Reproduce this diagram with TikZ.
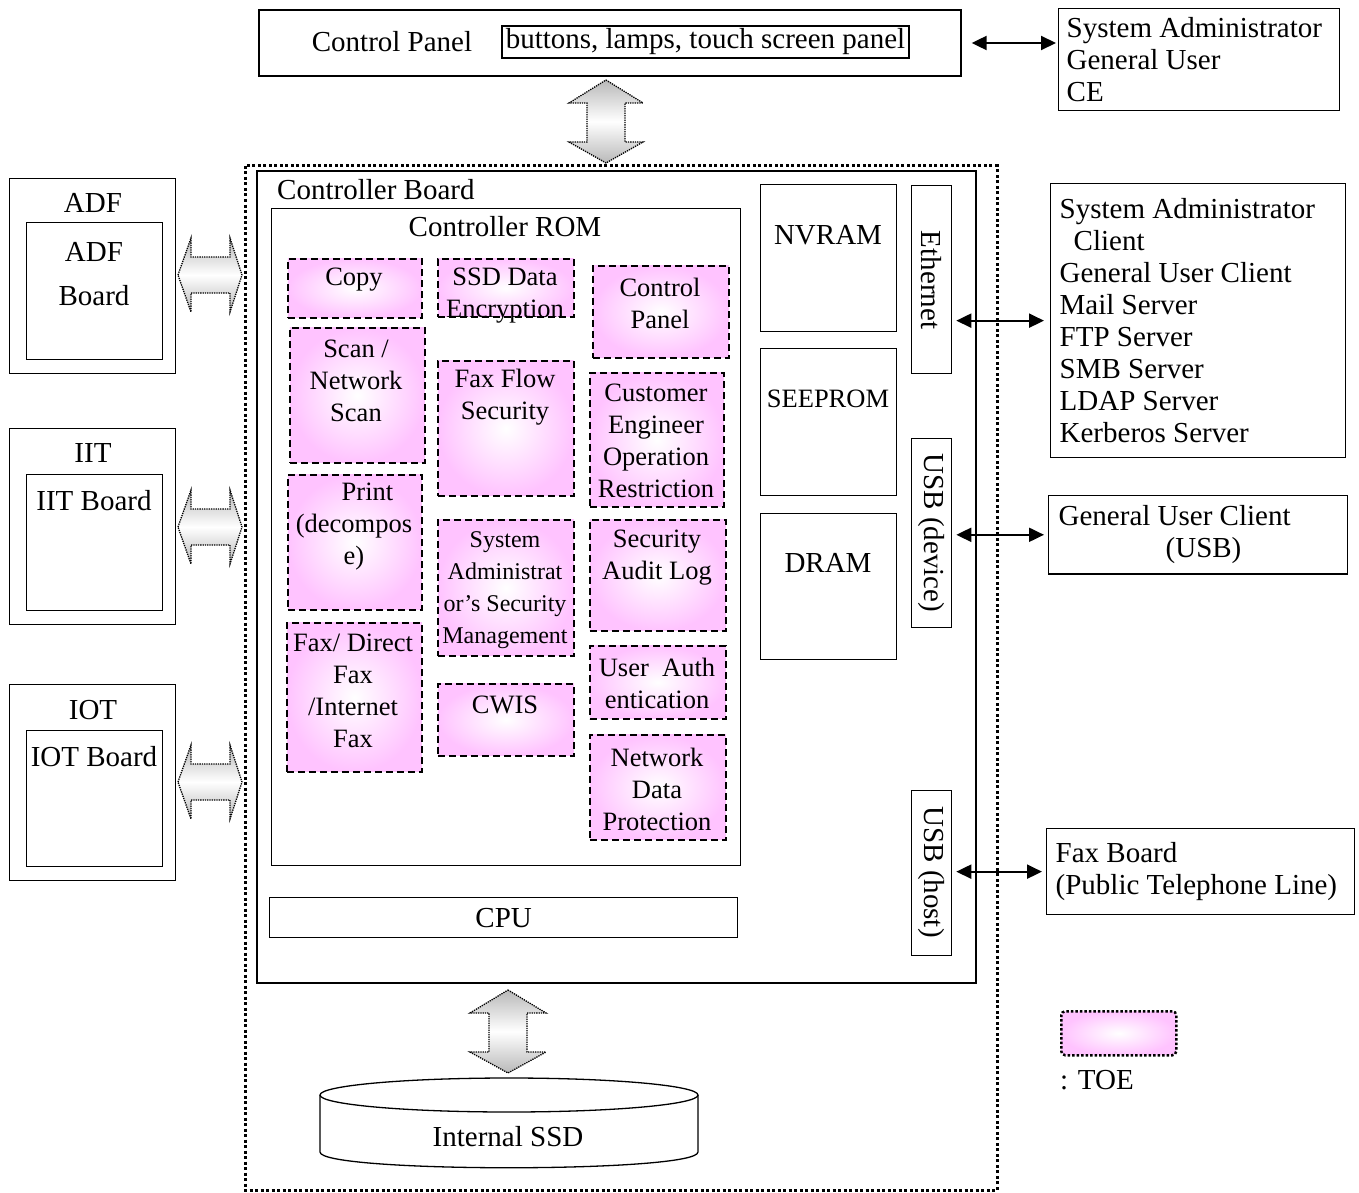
\documentclass[tikz,border=0pt]{standalone}
\usepackage{fontspec}
\setmainfont{Liberation Serif}
\usetikzlibrary{arrows.meta}
\definecolor{toepink}{RGB}{255,195,255}

\begin{document}
\begin{tikzpicture}[x=1pt, y=-1pt,
  box/.style={draw, line width=1.3pt, inner sep=0pt},
  toe/.style={draw, line width=1.8pt, dash pattern=on 7pt off 4pt, inner color=white, outer color=toepink, inner sep=0pt},
  txt/.style={inner sep=0pt, align=flush center, font=\fontsize{29}{32}\selectfont},
  toetxt/.style={inner sep=0pt, align=flush center, font=\fontsize{26.5}{32}\selectfont},
  bigarrow/.style={draw, line width=1.3pt, densely dotted, top color=gray!55, bottom color=gray!55, middle color=white},
  link/.style={line width=2pt, {Triangle[length=15pt,width=14pt]}-{Triangle[length=15pt,width=14pt]}}]

\useasboundingbox (0,0) rectangle (1359,1193);

% control panel and its users
\node[box, minimum width=702, minimum height=66] (cp) at (610,43) {};
\node[txt] (cplbl) at (392,42) {Control Panel};
\node[box, txt, inner sep=2pt, minimum width=407, minimum height=32] (btn) at (705.5,42) {buttons, lamps, touch screen panel};
\node[box, txt, align=flush left, text width=265, inner sep=8pt, minimum height=102, anchor=north west] (users) at (1058,8) {System Administrator\\General User\\CE};
\draw[link, shorten <=10pt, shorten >=2pt] (cp.east) -- (cp.east -| users.west);

\draw[bigarrow] (606,80) -- (643,103) -- (625,103) -- (625,142) -- (643,142) -- (606,163) -- (569,142) -- (587,142) -- (587,103) -- (569,103) -- cycle;

% controller
\draw[line width=3pt, dash pattern=on 3pt off 2.5pt] (245,166) rectangle (997,1190);
\node[box, line width=1.6pt, minimum width=719, minimum height=812, anchor=north west] (board) at (256,170) {};
\node[txt, anchor=west] (boardlbl) at (277,190) {Controller Board};
\node[box, minimum width=469, minimum height=657, anchor=north west] (rom) at (271,208) {};
\node[txt] (romlbl) at (505,227) {Controller ROM};
\node[box, txt, minimum width=468, minimum height=40, anchor=north west] (cpu) at (269,897) {CPU};

\node[box, minimum width=136, minimum height=147, anchor=north west] (nvram) at (760,184) {};
\node[txt] (nvramlbl) at (828,235) {NVRAM};
\node[box, minimum width=136, minimum height=147, anchor=north west] (seeprom) at (760,348) {};
\node[toetxt] (seepromlbl) at (828,399) {SEEPROM};
\node[box, minimum width=136, minimum height=146, anchor=north west] (dram) at (760,513) {};
\node[txt] (dramlbl) at (828,563) {DRAM};

\node[box, minimum width=40, minimum height=188, anchor=north west] (eth) at (911,185) {};
\node[txt, rotate=-90] (ethlbl) at (931,280) {Ethernet};
\node[box, minimum width=40, minimum height=189, anchor=north west] (usbd) at (911,438) {};
\node[txt, rotate=-90] (usbdlbl) at (931,533) {USB (device)};
\node[box, minimum width=40, minimum height=165, anchor=north west] (usbh) at (911,790) {};
\node[txt, rotate=-90] (usbhlbl) at (931,872) {USB (host)};

% TOE functions
\node[toe, minimum width=134, minimum height=59, anchor=north west] (copy) at (287,258) {};
\node[toetxt] (copytxt) at (354,280) {Copy};
\node[toe, minimum width=135, minimum height=135, anchor=north west] (scan) at (289,327) {};
\node[toetxt] (scantxt) at (356,381) {Scan /\\Network\\Scan};
\node[toe, minimum width=134, minimum height=135, anchor=north west] (print) at (287,474) {};
\node[toetxt] (printtxt) at (354,527) {\hspace*{27pt}Print\\(decompos\\e)};
\node[toe, minimum width=135, minimum height=149, anchor=north west] (fax) at (286,622) {};
\node[toetxt] (faxtxt) at (353,691) {Fax/ Direct\\Fax\\/Internet\\Fax};

\node[toe, minimum width=136, minimum height=58, anchor=north west] (ssdenc) at (437,258) {};
\node[toetxt] (ssdenctxt) at (505,296) {SSD Data\\Encryption};
\node[toe, minimum width=136, minimum height=135, anchor=north west] (faxflow) at (437,360) {};
\node[toetxt] (faxflowtxt) at (505,397) {Fax Flow\\Security};
\node[toe, minimum width=136, minimum height=136, anchor=north west] (sysadm) at (437,519) {};
\node[toetxt, font=\fontsize{24}{32}\selectfont] (sysadmtxt) at (505,590) {System\\Administrat\\or’s Security\\Management};
\node[toe, minimum width=136, minimum height=72, anchor=north west] (cwis) at (437,683) {};
\node[toetxt] (cwistxt) at (505,705) {CWIS};

\node[toe, minimum width=136, minimum height=92, anchor=north west] (panel) at (592,265) {};
\node[toetxt] (paneltxt) at (660,303) {Control\\Panel};
\node[toe, minimum width=134, minimum height=134, anchor=north west] (ce) at (589,372) {};
\node[toetxt] (cetxt) at (656,441) {Customer\\Engineer\\Operation\\Restriction};
\node[toe, minimum width=136, minimum height=111, anchor=north west] (audit) at (589,519) {};
\node[toetxt] (audittxt) at (657,558) {Security\\Audit Log};
\node[toe, minimum width=136, minimum height=73, anchor=north west] (auth) at (589,645) {};
\node[toetxt] (authtxt) at (657,683) {User\ \ Auth\\entication};
\node[toe, minimum width=136, minimum height=105, anchor=north west] (netdp) at (589,734) {};
\node[toetxt] (netdptxt) at (657,789) {Network\\Data\\Protection};

% external boxes on the right
\node[box, txt, align=flush left, text width=277, inner sep=9pt, minimum height=274, anchor=north west] (srv) at (1050,183) {System Administrator\\\hspace*{14pt}Client\\General User Client\\Mail Server\\FTP Server\\SMB Server\\LDAP Server\\Kerberos Server};
\draw[link, shorten <=4pt, shorten >=6pt] (eth.east |- srv.west) -- (srv.west);
\node[box, txt, align=flush left, text width=279, inner sep=10pt, minimum height=66, anchor=north west] (gucl) at (1048,495) {General User Client\\\hspace*{107pt}(USB)};
\draw[link, shorten <=4pt, shorten >=4pt] (usbd.east |- gucl.west) -- (gucl.west);
\node[box, txt, align=flush left, text width=290, inner sep=9pt, minimum height=86, anchor=north west] (faxb) at (1046,828) {Fax Board\\(Public Telephone Line)};
\draw[link, shorten <=4pt, shorten >=4pt] (usbh.east |- faxb.west) -- (faxb.west);

% scanner, printer units on the left
\node[box, minimum width=166, minimum height=195, anchor=north west] (adf) at (9,178) {};
\node[txt] (adflbl) at (93,203) {ADF};
\node[box, minimum width=136, minimum height=137, anchor=north west] (adfb) at (26,222) {};
\node[txt] (adfbtxt) at (94,274) {ADF\\[12pt]Board};
\draw[bigarrow] (178,275) -- (191,238) -- (191,257) -- (230,257) -- (230,238) -- (242,275) -- (230,312) -- (230,293) -- (191,293) -- (191,312) -- cycle;

\node[box, minimum width=166, minimum height=196, anchor=north west] (iit) at (9,428) {};
\node[txt] (iitlbl) at (93,453) {IIT};
\node[box, minimum width=136, minimum height=136, anchor=north west] (iitb) at (26,474) {};
\node[txt] (iitbtxt) at (94,501) {IIT Board};
\draw[bigarrow] (178,527) -- (191,490) -- (191,509) -- (230,509) -- (230,490) -- (242,527) -- (230,564) -- (230,545) -- (191,545) -- (191,564) -- cycle;

\node[box, minimum width=166, minimum height=196, anchor=north west] (iot) at (9,684) {};
\node[txt] (iotlbl) at (93,710) {IOT};
\node[box, minimum width=136, minimum height=136, anchor=north west] (iotb) at (26,730) {};
\node[txt] (iotbtxt) at (94,757) {IOT Board};
\draw[bigarrow] (178,782) -- (191,745) -- (191,764) -- (230,764) -- (230,745) -- (242,782) -- (230,819) -- (230,800) -- (191,800) -- (191,819) -- cycle;

% internal SSD
\draw[bigarrow] (508,990) -- (546,1013) -- (527,1013) -- (527,1052) -- (546,1052) -- (508,1073) -- (470,1052) -- (489,1052) -- (489,1013) -- (470,1013) -- cycle;
\draw[line width=1.3pt, fill=white] (320,1095) -- (320,1152) .. controls (320,1173) and (698,1173) .. (698,1152) -- (698,1095);
\draw[line width=1.3pt] (509,1095) ellipse [x radius=189, y radius=17];
\node[txt] (ssd) at (508,1137) {Internal SSD};

% legend
\node[draw, line width=2.5pt, dash pattern=on 2.5pt off 2pt, rounded corners=4pt, inner color=white, outer color=toepink, minimum width=115, minimum height=44, anchor=north west] (legend) at (1060,1010) {};
\node[txt, anchor=west] (legendtxt) at (1060,1080) {: TOE};

\end{tikzpicture}
\end{document}
